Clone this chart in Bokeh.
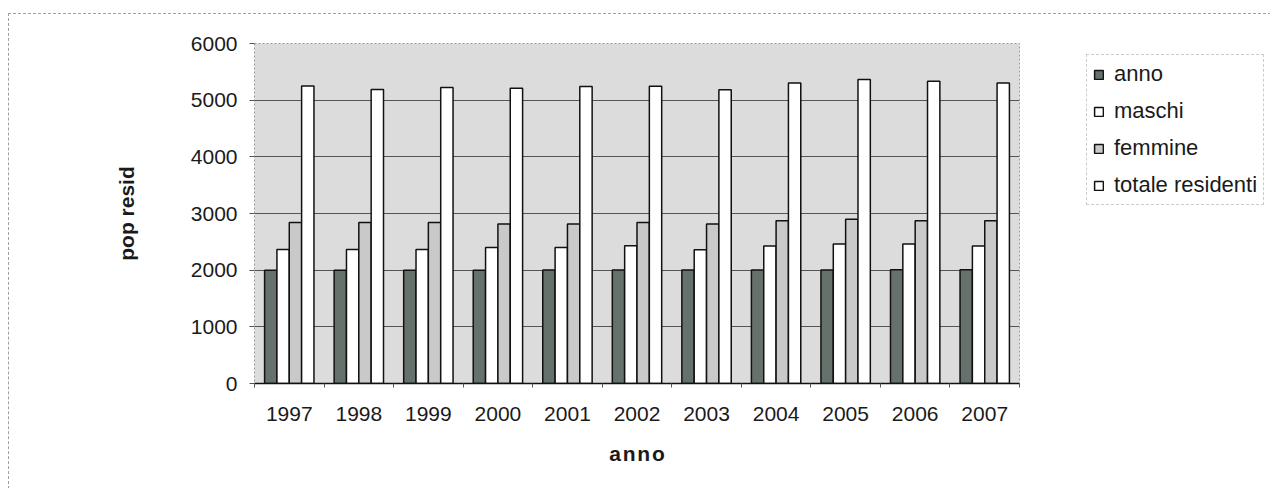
import numpy as np
from bokeh.plotting import figure
from bokeh.layouts import row
from bokeh.models import (ColumnDataSource, FixedTicker, Range1d, Legend, LegendItem)
from bokeh.embed import file_html
from bokeh.resources import INLINE

# ---- data ----
years = ["1997", "1998", "1999", "2000", "2001", "2002", "2003", "2004", "2005", "2006", "2007"]
anno = [1997, 1998, 1999, 2000, 2001, 2002, 2003, 2004, 2005, 2006, 2007]
maschi = [2365, 2365, 2365, 2400, 2400, 2430, 2360, 2425, 2460, 2460, 2425]
femmine = [2840, 2840, 2840, 2815, 2815, 2840, 2815, 2870, 2900, 2870, 2870]
totale = [5250, 5190, 5225, 5210, 5240, 5245, 5185, 5305, 5365, 5335, 5305]
series_names = ["anno", "maschi", "femmine", "totale residenti"]
y_ticks = [0, 1000, 2000, 3000, 4000, 5000, 6000]

FONT = "Liberation Sans"
OX, OY = 8, 13                      # chart box offset in the page
TOTAL_W, H = 1270 - OX, 488 - OY
LEG_MARGIN = 11
SPLIT = 1085 - LEG_MARGIN - OX      # main plot / legend strip split
FL, FR, FT, FB = 253 - OX, 1018 - OX, 42 - OY, 382 - OY

p = figure(width=SPLIT, height=H, output_backend="svg", toolbar_location=None,
           x_range=Range1d(0, len(years)), y_range=Range1d(0, 6000),
           min_border_left=FL, min_border_right=SPLIT - FR,
           min_border_top=FT, min_border_bottom=H - FB)
p.background_fill_color = "#dcdcdc"
p.border_fill_color = "white"
p.outline_line_color = "#9a9a9a"
p.outline_line_dash = "2 2"
p.outline_line_width = 1

centers = np.arange(len(years)) + 0.5
bw = 0.1775
offsets = [-1.5 * bw, -0.5 * bw, 0.5 * bw, 1.5 * bw]
colors = ["#67716b", "#ffffff", "#c9c9c9", "#ffffff"]
vals = [anno, maschi, femmine, totale]

for off, col, v in zip(offsets, colors, vals):
    src = ColumnDataSource(dict(x=centers + off, top=v))
    p.vbar(x="x", top="top", width=bw, source=src, fill_color=col,
           line_color="#111111", line_width=1.5)

# axes
p.xaxis.ticker = FixedTicker(ticks=list(centers), minor_ticks=list(np.arange(len(years) + 1)))
p.xaxis.major_label_overrides = {float(c): y for c, y in zip(centers, years)}
p.xaxis.major_tick_line_color = None
p.xaxis.minor_tick_line_color = "#555555"
p.xaxis.minor_tick_out = 4
p.xaxis.minor_tick_in = 0
p.xaxis.axis_line_color = "#111111"
p.xaxis.axis_line_width = 1.5
p.xaxis.major_label_text_font = FONT
p.xaxis.major_label_text_font_size = "21px"
p.xaxis.major_label_text_color = "#1a1a1a"
p.xaxis.major_label_standoff = 17
p.xaxis.axis_label = "a\u200an\u200an\u200ao"
p.xaxis.axis_label_text_font = FONT
p.xaxis.axis_label_text_font_style = "bold"
p.xaxis.axis_label_text_font_size = "21px"
p.xaxis.axis_label_text_color = "#1a1a1a"
p.xaxis.axis_label_standoff = 18

p.yaxis.ticker = FixedTicker(ticks=y_ticks)
p.yaxis.axis_line_color = None
p.yaxis.major_tick_line_color = "#555555"
p.yaxis.major_tick_out = 5
p.yaxis.major_tick_in = 0
p.yaxis.minor_tick_line_color = None
p.yaxis.major_label_text_font = FONT
p.yaxis.major_label_text_font_size = "21px"
p.yaxis.major_label_text_color = "#1a1a1a"
p.yaxis.major_label_standoff = 12
p.yaxis.axis_label = "pop resid"
p.yaxis.axis_label_text_font = FONT
p.yaxis.axis_label_text_font_style = "bold"
p.yaxis.axis_label_text_font_size = "21px"
p.yaxis.axis_label_text_color = "#1a1a1a"
p.yaxis.axis_label_standoff = 50

p.xgrid.grid_line_color = None
p.ygrid.grid_line_color = "#555555"
p.ygrid.grid_line_width = 1

# ---- legend strip (no title, no axes: its frame fills the strip) ----
LW = TOTAL_W - SPLIT
pl = figure(width=LW, height=H, output_backend="svg", toolbar_location=None, title=None,
            x_range=Range1d(0, 1), y_range=Range1d(0, 1),
            x_axis_type=None, y_axis_type=None,
            min_border_left=0, min_border_right=0, min_border_top=0, min_border_bottom=0)
pl.outline_line_color = None
pl.background_fill_color = "white"
pl.border_fill_color = "white"
pl.grid.grid_line_color = None

leg_renderers = []
for col in colors:
    r = pl.vbar(x=[0.5], top=[0.5], width=0.1, fill_color=col, line_color="#111111",
                line_width=1.5, visible=False)
    leg_renderers.append(r)

legend = Legend(items=[LegendItem(label=n, renderers=[r]) for n, r in zip(series_names, leg_renderers)],
                location="top_left")
legend.label_text_font = FONT
legend.label_text_font_size = "22px"
legend.label_text_color = "#1a1a1a"
legend.label_height = 25
legend.glyph_width = 11
legend.glyph_height = 11
legend.label_standoff = 10
legend.spacing = 11
legend.padding = 6
legend.margin = LEG_MARGIN
legend.border_line_color = "#9a9a9a"
legend.border_line_dash = "2 2"
legend.background_fill_color = "white"
legend.background_fill_alpha = 1
legend.inactive_fill_alpha = 0
pl.add_layout(legend, "center")

layout = row(p, pl, spacing=0)
layout.margin = (OY, 0, 0, OX)
layout.styles = {"border-left": "1px dashed #a0a0a0", "border-top": "1px dashed #a0a0a0",
                 "box-sizing": "border-box"}

open("out.html", "w").write(file_html(layout, INLINE))
